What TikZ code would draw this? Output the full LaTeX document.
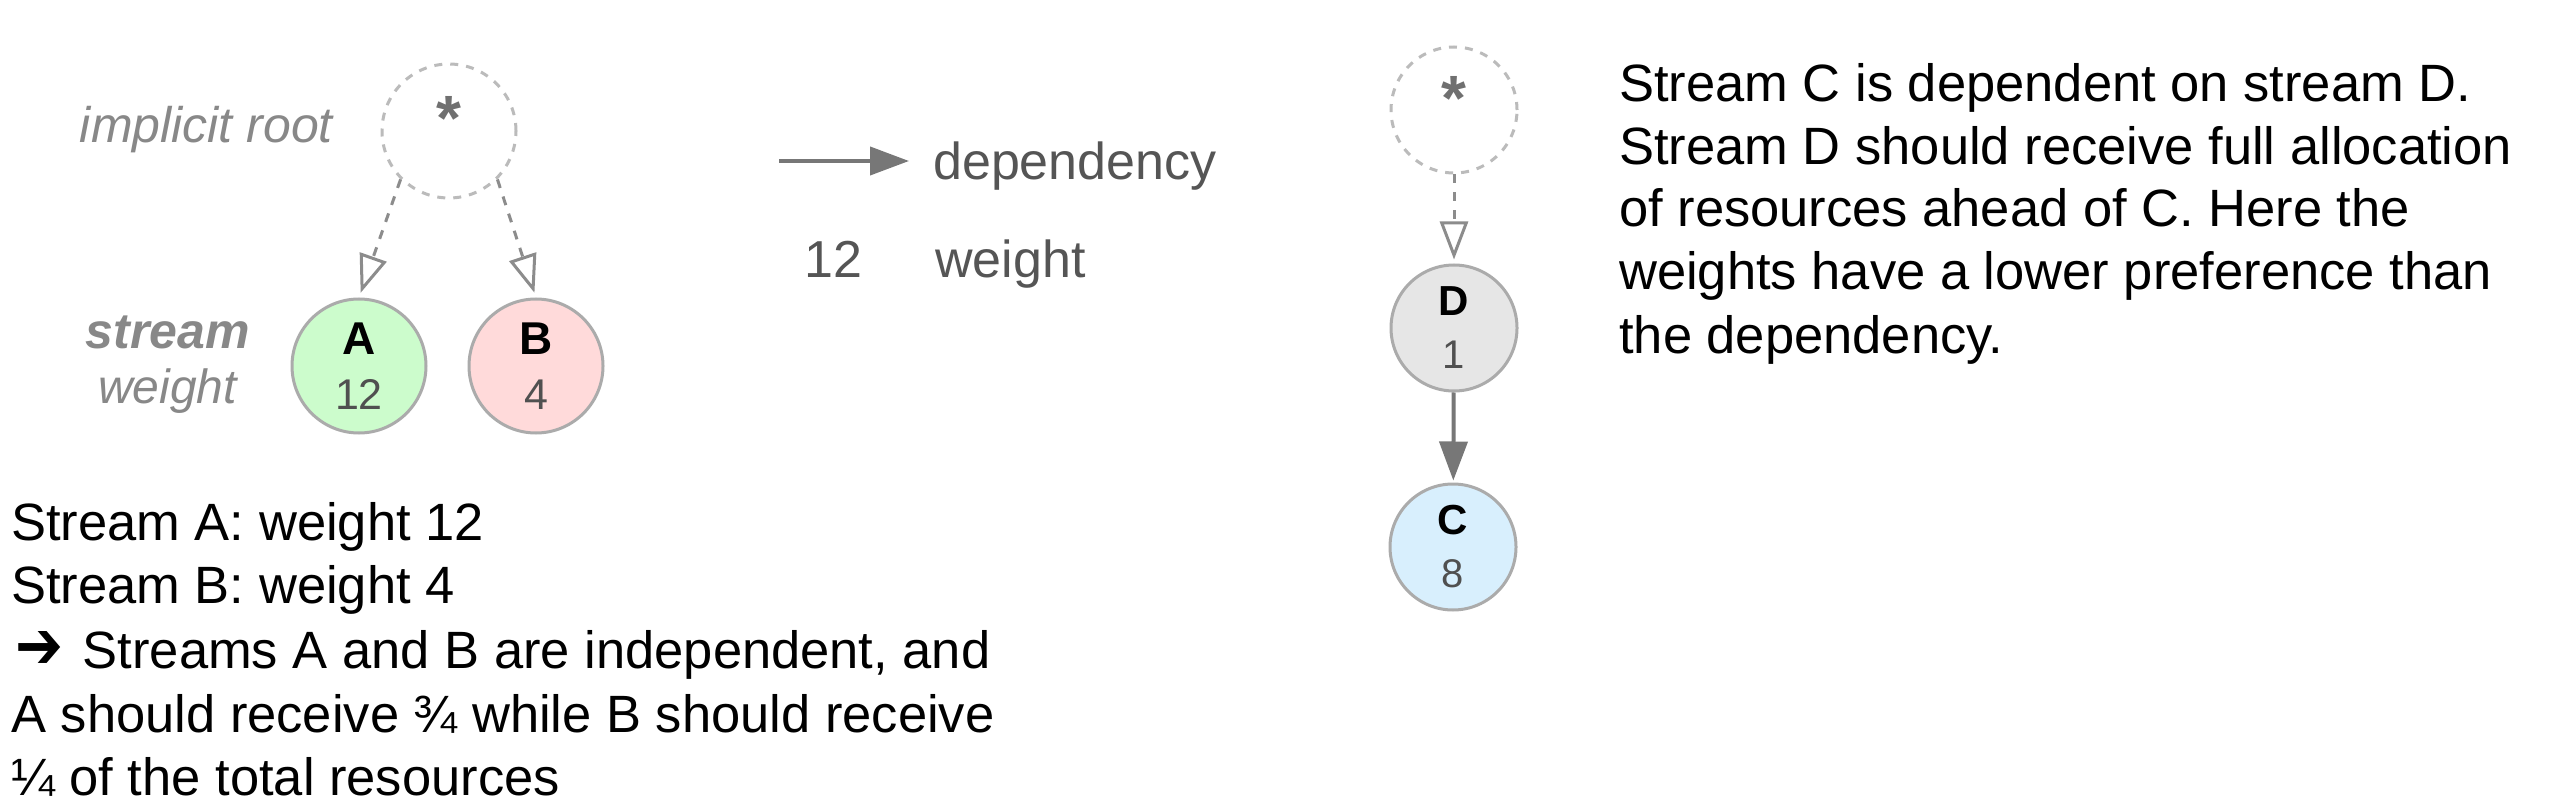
\documentclass[tikz,border=0pt]{standalone}
\usepackage{fontspec}
\usepackage{graphicx}
\setmainfont{Liberation Sans}
\newfontfamily\dejavu{DejaVu Sans}
\usetikzlibrary{arrows.meta}
\definecolor{circgray}{HTML}{ABABAB}
\definecolor{rootgray}{HTML}{BBBBBB}
\definecolor{linegray}{HTML}{8C8C8C}
\definecolor{arrowgray}{HTML}{777777}
\definecolor{stargray}{HTML}{707070}
\definecolor{lblgray}{HTML}{888888}
\definecolor{leggray}{HTML}{555555}
\definecolor{numgray}{HTML}{505050}
\definecolor{fillA}{HTML}{CCFCCC}
\definecolor{fillB}{HTML}{FFDADA}
\definecolor{fillD}{HTML}{E6E6E6}
\definecolor{fillC}{HTML}{D8EFFD}
\tikzset{
  streamL/.style={circle, draw=circgray, line width=3pt, inner sep=0pt,
    minimum size=134pt, align=center, font=\fontsize{46}{55}\selectfont},
  streamR/.style={circle, draw=circgray, line width=3pt, inner sep=0pt,
    minimum size=126pt, align=center, font=\fontsize{42}{53}\selectfont},
  rootnode/.style={circle, draw=rootgray, dash pattern=on 8pt off 8pt,
    line width=3pt, minimum size=134pt, inner sep=0pt},
  startext/.style={inner sep=0pt, font=\fontsize{64}{64}\selectfont\bfseries, text=stargray},
  depdash/.style={draw=linegray, line width=3pt, dash pattern=on 9pt off 9pt,
    -{Triangle[open, length=38pt, width=28pt]}},
  depsolid/.style={draw=arrowgray, line width=4pt, -{Triangle[length=39pt, width=28pt]}},
  lbl/.style={inner sep=0pt, text=lblgray, font=\fontsize{50}{60}\selectfont},
  legtext/.style={inner sep=0pt, text=leggray, font=\fontsize{52}{62}\selectfont},
  bodytext/.style={inner sep=0pt, text=black, anchor=base west, font=\fontsize{52.5}{62}\selectfont}
}
\newcommand{\swL}[2]{{\bfseries #1}\\{\color{numgray}\fontsize{43}{55}\selectfont #2}}
\newcommand{\swR}[2]{{\bfseries #1}\\{\color{numgray}\fontsize{40}{53}\selectfont #2}}
\begin{document}
\begin{tikzpicture}[x=1pt,y=-1pt]
\useasboundingbox[fill=white] (0,0) rectangle (2556,810);

% left tree
\node[rootnode] (root) at (449,131) {};
\node[startext] (star1) at ([yshift=13pt]root.center) {*};
\node[streamL, fill=fillA] (A) at (359,366) {\swL{A}{12}};
\node[streamL, fill=fillB] (B) at (536,366) {\swL{B}{4}};
\draw[depdash, shorten >=5pt] (root.-135) -- (A.north);
\draw[depdash, shorten >=5pt] (root.-45) -- (B.north);

\node[lbl, anchor=base east] (ir) at (333,143) {\itshape implicit root};
\node[lbl, anchor=base east] (st) at (250,348) {\bfseries\itshape stream};
\node[lbl, anchor=base east, font=\fontsize{48}{58}\selectfont] (wt) at (237,403) {\itshape weight};

% legend
\coordinate (lg1) at (779,161);
\coordinate (lg2) at (909,161);
\draw[depsolid] (lg1) -- (lg2);
\node[legtext, anchor=base west] (ldep) at (933,180) {dependency};
\node[legtext, anchor=base west] (lnum) at (804,278) {12};
\node[legtext, anchor=base west] (lwt) at (935,278) {weight};

% right tree
\node[rootnode, minimum size=126pt] (root2) at (1454,110) {};
\node[startext] (star2) at ([yshift=12pt]root2.center) {*};
\node[streamR, fill=fillD] (D) at (1454,328) {\swR{D}{1}};
\node[streamR, fill=fillC] (C) at (1453,547) {\swR{C}{8}};
\draw[depdash, shorten >=4pt] (root2) -- (D);
\draw[depsolid, shorten >=2pt] (D) -- (C);

% right text
\node[bodytext] (r1) at (1619,102) {Stream C is dependent on stream D.};
\node[bodytext] (r2) at (1619,165) {Stream D should receive full allocation};
\node[bodytext] (r3) at (1619,227) {of resources ahead of C. Here the};
\node[bodytext] (r4) at (1619,290) {weights have a lower preference than};
\node[bodytext] (r5) at (1619,353) {the dependency.};

% bottom-left text
\node[bodytext] (b1) at (11,540) {Stream A: weight 12};
\node[bodytext] (b2) at (11,603) {Stream B: weight 4};
\node[bodytext] (b3) at (11,668) {\hspace{4pt}\resizebox{48pt}{37pt}{\dejavu\bfseries ➔}\hspace{5pt} Streams A and B are independent, and};
\node[bodytext] (b4) at (11,732) {A should receive ¾ while B should receive};
\node[bodytext] (b5) at (11,795) {¼ of the total resources};
\end{tikzpicture}
\end{document}
